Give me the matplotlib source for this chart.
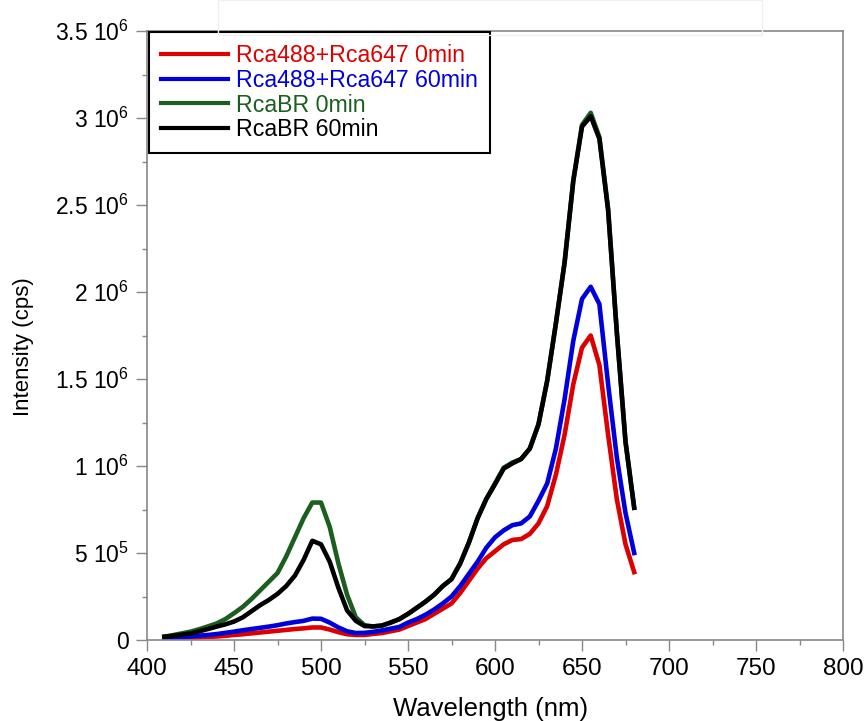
import matplotlib
matplotlib.use("Agg")
import matplotlib.pyplot as plt
from matplotlib.ticker import MultipleLocator, FixedLocator
from matplotlib.patches import Rectangle

plt.rcParams['font.family'] = ['Liberation Sans', 'DejaVu Sans']
plt.rcParams['mathtext.fontset'] = 'custom'
plt.rcParams['mathtext.rm'] = 'Liberation Sans'

wavelength = [410, 415, 420, 425, 430, 435, 440, 445, 450, 455, 460, 465, 470, 475,
              480, 485, 490, 495, 500, 505, 510, 515, 520, 525, 530, 535, 540, 545,
              550, 555, 560, 565, 570, 575, 580, 585, 590, 595, 600, 605, 610, 615,
              620, 625, 630, 635, 640, 645, 650, 655, 660, 665, 670, 675, 680]

rca_0min = [0.004, 0.007, 0.010, 0.012, 0.015, 0.018, 0.020, 0.024, 0.029, 0.033, 0.038,
            0.043, 0.048, 0.053, 0.058, 0.063, 0.067, 0.072, 0.072, 0.060, 0.045, 0.033,
            0.029, 0.029, 0.035, 0.040, 0.050, 0.060, 0.080, 0.100, 0.120, 0.150, 0.180,
            0.210, 0.270, 0.340, 0.410, 0.470, 0.510, 0.550, 0.575, 0.580, 0.610, 0.670,
            0.770, 0.950, 1.180, 1.470, 1.680, 1.750, 1.580, 1.180, 0.810, 0.550, 0.390]

rca_60min = [0.010, 0.013, 0.017, 0.021, 0.025, 0.029, 0.034, 0.041, 0.048, 0.056, 0.063,
             0.070, 0.077, 0.085, 0.095, 0.103, 0.110, 0.123, 0.122, 0.100, 0.072, 0.050,
             0.040, 0.041, 0.047, 0.055, 0.065, 0.075, 0.100, 0.120, 0.145, 0.175, 0.210,
             0.250, 0.310, 0.380, 0.450, 0.530, 0.590, 0.630, 0.660, 0.670, 0.710, 0.800,
             0.900, 1.100, 1.385, 1.720, 1.960, 2.030, 1.930, 1.470, 1.050, 0.730, 0.500]

rcabr_0min = [0.019, 0.028, 0.038, 0.048, 0.062, 0.078, 0.095, 0.120, 0.154, 0.190, 0.235,
              0.285, 0.335, 0.385, 0.480, 0.590, 0.700, 0.790, 0.790, 0.650, 0.440, 0.260,
              0.130, 0.085, 0.078, 0.083, 0.100, 0.120, 0.150, 0.185, 0.220, 0.260, 0.310,
              0.350, 0.440, 0.560, 0.700, 0.810, 0.900, 0.990, 1.020, 1.040, 1.100, 1.240,
              1.490, 1.820, 2.170, 2.640, 2.960, 3.030, 2.890, 2.480, 1.770, 1.140, 0.760]

rcabr_60min = [0.019, 0.024, 0.031, 0.038, 0.050, 0.063, 0.077, 0.090, 0.106, 0.130, 0.165,
               0.200, 0.230, 0.265, 0.310, 0.370, 0.460, 0.570, 0.550, 0.450, 0.300, 0.170,
               0.110, 0.080, 0.078, 0.083, 0.100, 0.120, 0.150, 0.185, 0.220, 0.260, 0.310,
               0.350, 0.440, 0.560, 0.700, 0.810, 0.895, 0.985, 1.015, 1.040, 1.100, 1.240,
               1.490, 1.820, 2.170, 2.640, 2.950, 3.010, 2.880, 2.470, 1.770, 1.140, 0.760]

series_labels = ['Rca488+Rca647 0min', 'Rca488+Rca647 60min', 'RcaBR 0min', 'RcaBR 60min']
series_colors = ['#dc0000', '#0000dc', '#1b5e20', '#000000']
series_values = [rca_0min, rca_60min, rcabr_0min, rcabr_60min]

y_tick_values = [0, 0.5e6, 1e6, 1.5e6, 2e6, 2.5e6, 3e6, 3.5e6]
y_tick_labels = ['0', r'5 $\mathregular{10^5}$', r'1 $\mathregular{10^6}$',
                 r'1.5 $\mathregular{10^6}$', r'2 $\mathregular{10^6}$',
                 r'2.5 $\mathregular{10^6}$', r'3 $\mathregular{10^6}$',
                 r'3.5 $\mathregular{10^6}$']
x_tick_values = [400, 450, 500, 550, 600, 650, 700, 750, 800]

fig = plt.figure(figsize=(8.65, 7.21), dpi=100)
ax = fig.add_axes([147/865, 1 - 640/721, (843-147)/865, (640-31)/721])

for vals, lab, col in zip(series_values, series_labels, series_colors):
    ax.plot(wavelength, [v * 1e6 for v in vals], color=col, lw=3.3, label=lab,
            solid_joinstyle='round')

ax.set_xlim(400, 800)
ax.set_ylim(0, 3.5e6)
ax.xaxis.set_major_locator(FixedLocator(x_tick_values))
ax.set_xticklabels([str(v) for v in x_tick_values])
ax.xaxis.set_minor_locator(MultipleLocator(25))
ax.yaxis.set_major_locator(FixedLocator(y_tick_values))
ax.set_yticklabels(y_tick_labels)
ax.yaxis.set_minor_locator(MultipleLocator(0.25e6))

for s in ax.spines.values():
    s.set_color('#888888')
    s.set_linewidth(1.2)
ax.tick_params(axis='both', which='major', direction='out', length=8, width=1.0,
               color='#888888', labelcolor='black')
ax.tick_params(axis='both', which='minor', direction='out', length=3.8, width=1.0,
               color='#888888')
ax.tick_params(axis='x', labelsize=17.5, pad=5)
ax.tick_params(axis='y', labelsize=16.5, pad=5)

ax.set_xlabel('Wavelength (nm)', fontsize=18.5)
ax.xaxis.set_label_coords(0.494, -0.094)
ax.set_ylabel('Intensity (cps)', fontsize=16)
ax.yaxis.set_label_coords(-0.162, 0.481)

leg = ax.legend(loc='upper left', bbox_to_anchor=(0.003, 0.998), borderaxespad=0,
                fontsize=16.7, frameon=True, fancybox=False, framealpha=1,
                edgecolor='black', handlelength=2.9, handletextpad=0.35,
                labelspacing=0.08, borderpad=0.5)
leg.get_frame().set_linewidth(1.5)
for txt, col in zip(leg.get_texts(), series_colors):
    txt.set_color(col)
for line in leg.get_lines():
    line.set_linewidth(3.0)

fig.patches.append(Rectangle((218/865, 1 - 35/721), (762-218)/865, 35/721,
                             transform=fig.transFigure, facecolor='none',
                             edgecolor='#f0f0f0', lw=1.0))

fig.savefig('out.png', dpi=100)
